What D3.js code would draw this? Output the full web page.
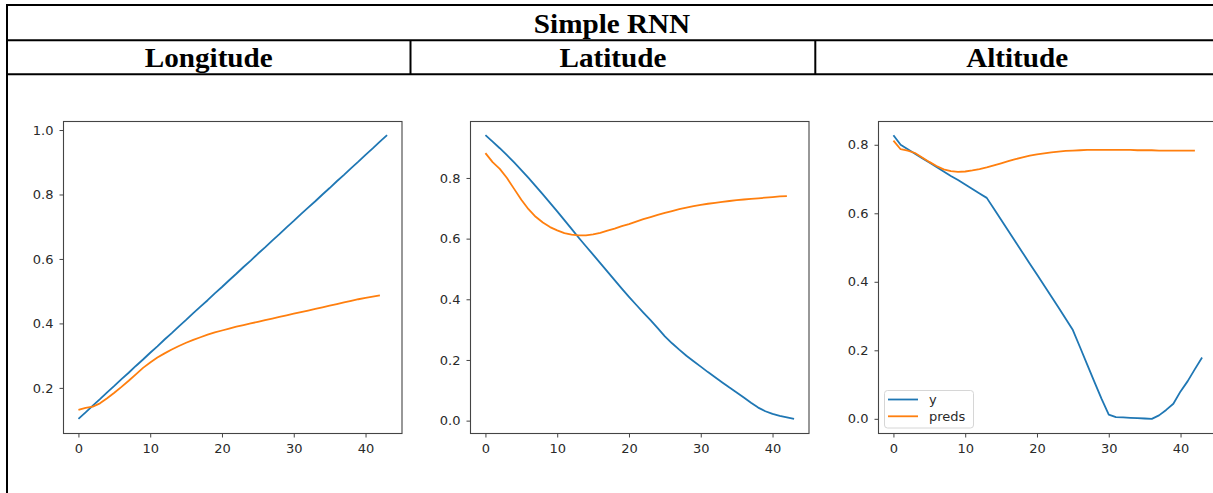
<!DOCTYPE html>
<html>
<head>
<meta charset="utf-8">
<script src="https://cdn.jsdelivr.net/npm/d3@7/dist/d3.min.js"></script>
<style>
  html, body { margin: 0; padding: 0; background: #fff; overflow: hidden; }
  svg { display: block; }
</style>
</head>
<body>
<svg id="chart" width="1213" height="493"></svg>
<script>
// ---- data ----------------------------------------------------------------
const tableTitle = "Simple RNN";
const panelTitles = ["Longitude", "Latitude", "Altitude"];
const legendLabels = ["y", "preds"];
const xTicks = [0, 10, 20, 30, 40];
const lonTicks = [0.2, 0.4, 0.6, 0.8, 1.0];
const latTicks = [0.0, 0.2, 0.4, 0.6, 0.8];
const altTicks = [0.0, 0.2, 0.4, 0.6, 0.8];

// Longitude: ground truth (y) and predictions (preds)
const lonY = [0.104, 0.124, 0.145, 0.165, 0.186, 0.206, 0.227, 0.247, 0.268, 0.288,
  0.309, 0.329, 0.350, 0.370, 0.391, 0.411, 0.432, 0.452, 0.472, 0.493,
  0.513, 0.534, 0.554, 0.575, 0.595, 0.616, 0.636, 0.657, 0.677, 0.698,
  0.718, 0.739, 0.759, 0.779, 0.800, 0.820, 0.841, 0.861, 0.882, 0.902,
  0.923, 0.943, 0.964, 0.984];
const lonPreds = [0.132, 0.138, 0.142, 0.152, 0.168, 0.185, 0.203, 0.222, 0.242, 0.262,
  0.279, 0.294, 0.307, 0.319, 0.330, 0.340, 0.349, 0.357, 0.365, 0.372,
  0.378, 0.384, 0.390, 0.395, 0.400, 0.405, 0.410, 0.415, 0.420, 0.425,
  0.430, 0.435, 0.440, 0.445, 0.450, 0.455, 0.460, 0.465, 0.470, 0.475,
  0.479, 0.483, 0.487];

// Latitude
const latY = [0.941, 0.920, 0.898, 0.875, 0.851, 0.826, 0.800, 0.773, 0.746, 0.718,
  0.690, 0.661, 0.632, 0.603, 0.575, 0.547, 0.519, 0.491, 0.463, 0.435,
  0.408, 0.382, 0.356, 0.331, 0.305, 0.278, 0.255, 0.234, 0.214, 0.196,
  0.178, 0.160, 0.143, 0.126, 0.109, 0.093, 0.076, 0.059, 0.043, 0.031,
  0.022, 0.016, 0.011, 0.006];
const latPreds = [0.882, 0.852, 0.830, 0.800, 0.764, 0.728, 0.697, 0.672, 0.653, 0.638,
  0.627, 0.618, 0.613, 0.611, 0.611, 0.614, 0.619, 0.626, 0.633, 0.641,
  0.648, 0.656, 0.664, 0.671, 0.678, 0.685, 0.691, 0.697, 0.702, 0.707,
  0.711, 0.715, 0.718, 0.721, 0.724, 0.727, 0.729, 0.731, 0.733, 0.735,
  0.737, 0.739, 0.740];

// Altitude
const altY = [0.828, 0.800, 0.787, 0.774, 0.761, 0.748, 0.735, 0.722, 0.709, 0.697,
  0.684, 0.671, 0.658, 0.645, 0.613, 0.581, 0.549, 0.517, 0.485, 0.453,
  0.421, 0.389, 0.357, 0.325, 0.292, 0.259, 0.209, 0.158, 0.108, 0.058,
  0.012, 0.005, 0.004, 0.003, 0.002, 0.001, 0.000, 0.010, 0.026, 0.044,
  0.080, 0.110, 0.145, 0.179];
const altPreds = [0.812, 0.787, 0.783, 0.776, 0.763, 0.750, 0.738, 0.728, 0.723, 0.721,
  0.722, 0.725, 0.729, 0.734, 0.740, 0.746, 0.752, 0.758, 0.763, 0.768,
  0.772, 0.775, 0.778, 0.780, 0.782, 0.783, 0.784, 0.785, 0.785, 0.785,
  0.785, 0.785, 0.785, 0.785, 0.784, 0.784, 0.784, 0.783, 0.783, 0.783,
  0.783, 0.783, 0.783];

const panels = [
  { title: panelTitles[0], y: lonY, preds: lonPreds, ticks: lonTicks, legend: false },
  { title: panelTitles[1], y: latY, preds: latPreds, ticks: latTicks, legend: false },
  { title: panelTitles[2], y: altY, preds: altPreds, ticks: altTicks, legend: true }
];

// ---- layout ----------------------------------------------------------------
const svg = d3.select("#chart");
const BLUE = "#1f77b4", ORANGE = "#ff7f0e";
const TICK_FONT = "'DejaVu Sans', sans-serif";
const SERIF = "'Liberation Serif', 'Times New Roman', serif";

const colEdges = [7, 410.5, 815.3, 1219];
const rowLines = [5, 40.3, 74.3];

// table frame
const table = svg.append("g").attr("stroke", "#000").attr("stroke-width", 2).attr("fill", "none");
rowLines.forEach(y => table.append("line").attr("x1", colEdges[0] - 1).attr("x2", colEdges[3] + 1).attr("y1", y).attr("y2", y));
table.append("line").attr("x1", colEdges[0]).attr("x2", colEdges[0]).attr("y1", rowLines[0]).attr("y2", 493);
table.append("line").attr("x1", colEdges[3]).attr("x2", colEdges[3]).attr("y1", rowLines[0]).attr("y2", 493);
[colEdges[1], colEdges[2]].forEach(x =>
  table.append("line").attr("x1", x).attr("x2", x).attr("y1", rowLines[1]).attr("y2", rowLines[2]));

function headerText(cx, baseline, txt) {
  svg.append("text")
    .attr("transform", `translate(${cx},${baseline}) scale(1.08,1)`)
    .attr("text-anchor", "middle")
    .attr("font-family", SERIF)
    .attr("font-weight", "bold")
    .attr("font-size", 27)
    .attr("fill", "#000")
    .text(txt);
}
headerText((colEdges[0] + colEdges[3]) / 2 - 1, 33, tableTitle);
panels.forEach((p, i) => headerText((colEdges[i] + colEdges[i + 1]) / 2, 67, p.title));

// ---- plots -----------------------------------------------------------------
const plotLeft = [63, 470, 878];
const plotTop = 121, plotW = 339.5, plotH = 312;

function paddedExtent(arrs) {
  const lo = d3.min(arrs, a => d3.min(a)), hi = d3.max(arrs, a => d3.max(a));
  const m = (hi - lo) * 0.05;
  return [lo - m, hi + m];
}

panels.forEach((p, i) => {
  const g = svg.append("g").attr("transform", `translate(${plotLeft[i]},${plotTop})`);
  const n = Math.max(p.y.length, p.preds.length) - 1;
  const x = d3.scaleLinear().domain([-n * 0.05, n * 1.05]).range([0, plotW]);
  const y = d3.scaleLinear().domain(paddedExtent([p.y, p.preds])).range([plotH, 0]);

  const line = d3.line().x((d, k) => x(k)).y(d => y(d));
  g.append("path").datum(p.y).attr("d", line)
    .attr("fill", "none").attr("stroke", BLUE).attr("stroke-width", 1.8).attr("stroke-linejoin", "round");
  g.append("path").datum(p.preds).attr("d", line)
    .attr("fill", "none").attr("stroke", ORANGE).attr("stroke-width", 1.8).attr("stroke-linejoin", "round");

  // spines
  g.append("rect").attr("x", 0.5).attr("y", 0.5).attr("width", plotW - 1).attr("height", plotH)
    .attr("fill", "none").attr("stroke", "#444").attr("stroke-width", 1.1);

  const xa = g.append("g").attr("transform", `translate(0,${plotH + 0.5})`)
    .call(d3.axisBottom(x).tickValues(xTicks).tickFormat(d3.format("d")).tickSize(4).tickPadding(6));
  const ya = g.append("g").attr("transform", "translate(0.5,0)")
    .call(d3.axisLeft(y).tickValues(p.ticks).tickFormat(d3.format(".1f")).tickSize(4).tickPadding(6));
  [xa, ya].forEach(a => {
    a.select(".domain").remove();
    a.selectAll("line").attr("stroke", "#444");
    a.selectAll("text").attr("fill", "#2a2a2a").attr("font-family", TICK_FONT).attr("font-size", 13);
  });

  if (p.legend) {
    const lg = g.append("g").attr("transform", "translate(6,269)");
    lg.append("rect").attr("x", 0.5).attr("y", 0.5).attr("width", 89).attr("height", 37.5).attr("rx", 3)
      .attr("fill", "#fff").attr("fill-opacity", 0.8).attr("stroke", "#d6d6d6");
    const colors = [BLUE, ORANGE];
    legendLabels.forEach((lab, k) => {
      const yy = 9.5 + k * 16.8;
      lg.append("line").attr("x1", 4).attr("x2", 34).attr("y1", yy).attr("y2", yy)
        .attr("stroke", colors[k]).attr("stroke-width", 1.8);
      lg.append("text").attr("x", 45).attr("y", yy + 4.5)
        .attr("font-family", TICK_FONT).attr("font-size", 13).attr("fill", "#2a2a2a").text(lab);
    });
  }
});
</script>
</body>
</html>
